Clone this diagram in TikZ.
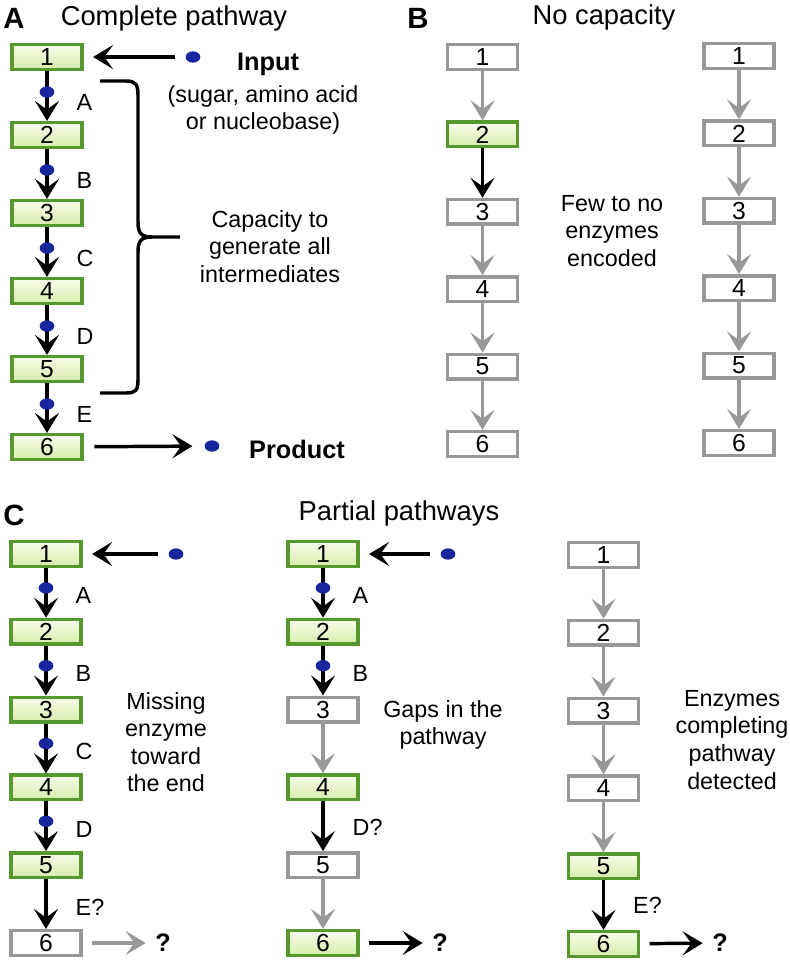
\documentclass[tikz,border=0pt]{standalone}
\usepackage{fontspec}
\setmainfont{Liberation Sans}
\usetikzlibrary{positioning,arrows.meta,shapes.geometric}

\definecolor{leaf}{RGB}{86,152,46}
\definecolor{leaftop}{RGB}{248,252,234}
\definecolor{leafbot}{RGB}{214,236,172}
\definecolor{ash}{RGB}{152,152,152}
\definecolor{ink}{RGB}{24,38,158}

\tikzset{
    box/.style={rectangle, minimum width=52.5pt, minimum height=18.5pt, inner sep=0pt,
        line width=2.6pt, font=\fontsize{18.5}{18.5}\selectfont},
    stepon/.style={box, draw=leaf, top color=leaftop, bottom color=leafbot},
    stepoff/.style={box, draw=ash, fill=white},
    flow/.style={line width=2.6pt, -{Stealth[length=15pt, width=18pt, inset=6.5pt]}},
    noflow/.style={flow, draw=ash, fill=ash},
    metab/.style={ellipse, fill=ink, minimum width=11pt, minimum height=8.5pt, inner sep=0pt},
    tag/.style={inner sep=0pt, align=center, font=\fontsize{17.5}{20.7}\selectfont},
    title/.style={inner sep=0pt, font=\fontsize{20.5}{20.5}\selectfont},
    panel/.style={inner sep=0pt, font=\fontsize{22}{22}\selectfont\bfseries},
    hot/.style={inner sep=0pt, font=\fontsize{19}{19}\selectfont\bfseries}
}

\begin{document}
\begin{tikzpicture}[x=0.75pt, y=-0.75pt]
    \useasboundingbox (0,0) rectangle (789,960);

    \node[panel, anchor=north] (pa) at (14,8) {A};
    \node[title, anchor=north] (ta) at (174,5) {Complete pathway};
    \foreach \i in {1,...,6}
        \node[stepon] (a\i) at (47,{57+78*(\i-1)}) {\i};
    \foreach \i/\j/\e in {1/2/A,2/3/B,3/4/C,4/5/D,5/6/E}
        \draw[flow] (a\i) -- node[metab, pos=0.42] (da\i) {}
            node[tag, right=21pt, pos=0.62] (la\i) {\e} (a\j);
    \node[metab] (ina) at (193,57) {};
    \draw[flow, shorten <=8pt, shorten >=7pt] (ina) -- (a1);
    \node[hot, anchor=north] (input) at (268,53) {Input};
    \node[tag, anchor=north] (kinds) at (263,85) {(sugar, amino acid\\or nucleobase)};
    \node[metab] (outa) at (212,446) {};
    \draw[flow, shorten <=8pt, shorten >=9pt] (a6) -- (outa);
    \node[hot, anchor=north] (product) at (297,440) {Product};
    \coordinate (btop) at (100,81);
    \coordinate (btip) at (180,237);
    \coordinate (bbot) at (100,393);
    \draw[line width=2.6pt] (btop) -- (126,81) .. controls (136,81) and (138,85) .. (138,95)
        -- (138,222) .. controls (138,233) and (141,237) .. (152,237) -- (btip)
        (152,237) .. controls (141,237) and (138,241) .. (138,252)
        -- (138,380) .. controls (138,390) and (136,393) .. (126,393) -- (bbot);
    \node[tag, anchor=north] (cap) at (270,210) {Capacity to\\generate all\\intermediates};

    \node[panel, anchor=north] (pb) at (418,8) {B};
    \node[title, anchor=north] (tb) at (604,4) {No capacity};
    \foreach \i/\s in {1/stepoff,2/stepon,3/stepoff,4/stepoff,5/stepoff,6/stepoff}
        \node[\s] (bl\i) at (482.5,{57+77.4*(\i-1)}) {\i};
    \foreach \i in {1,...,6}
        \node[stepoff] (br\i) at (739,{56+77.4*(\i-1)}) {\i};
    \foreach \i/\j/\s in {1/2/noflow,2/3/flow,3/4/noflow,4/5/noflow,5/6/noflow}
        \draw[\s] (bl\i) -- (bl\j);
    \foreach \i/\j in {1/2,2/3,3/4,4/5,5/6}
        \draw[noflow] (br\i) -- (br\j);
    \node[tag, anchor=north] (few) at (612,195) {Few to no\\enzymes\\encoded};

    \node[panel, anchor=north] (pc) at (14,505) {C};
    \node[title, anchor=north] (tc) at (399,500) {Partial pathways};
    \foreach \i/\s in {1/stepon,2/stepon,3/stepon,4/stepon,5/stepon,6/stepoff}
        \node[\s] (cl\i) at (46,{554+77.8*(\i-1)}) {\i};
    \foreach \i/\s in {1/stepon,2/stepon,3/stepoff,4/stepon,5/stepoff,6/stepon}
        \node[\s] (cm\i) at (323,{554+77.8*(\i-1)}) {\i};
    \foreach \i/\s in {1/stepoff,2/stepoff,3/stepoff,4/stepoff,5/stepon,6/stepon}
        \node[\s] (cr\i) at (603.5,{555+77.8*(\i-1)}) {\i};

    \foreach \i/\j/\e in {1/2/A,2/3/B,3/4/C,4/5/D}
        \draw[flow] (cl\i) -- node[metab, pos=0.4] (dcl\i) {}
            node[tag, right=21pt, pos=0.56] (lcl\i) {\e} (cl\j);
    \draw[flow] (cl5) -- node[tag, right=21pt, pos=0.56] (lcl5) {E?} (cl6);
    \node[metab] (inc) at (176,554) {};
    \draw[flow, shorten <=8pt, shorten >=7pt] (inc) -- (cl1);
    \node[hot] (qcl) at (163,943) {?};
    \draw[noflow, shorten <=7pt, shorten >=7pt] (cl6) -- (qcl);
    \node[tag, anchor=north] (miss) at (166,692) {Missing\\enzyme\\toward\\the end};

    \foreach \i/\j/\e in {1/2/A,2/3/B}
        \draw[flow] (cm\i) -- node[metab, pos=0.4] (dcm\i) {}
            node[tag, right=21pt, pos=0.56] (lcm\i) {\e} (cm\j);
    \draw[noflow] (cm3) -- (cm4);
    \draw[flow] (cm4) -- node[tag, right=21pt, pos=0.52] (lcm4) {D?} (cm5);
    \draw[noflow] (cm5) -- (cm6);
    \node[metab] (inm) at (448,554) {};
    \draw[flow, shorten <=8pt, shorten >=7pt] (inm) -- (cm1);
    \node[hot] (qcm) at (440,943) {?};
    \draw[flow, shorten <=7pt, shorten >=7pt] (cm6) -- (qcm);
    \node[tag, anchor=north] (gaps) at (443,700) {Gaps in the\\pathway};

    \foreach \i/\j in {1/2,2/3,3/4,4/5}
        \draw[noflow] (cr\i) -- (cr\j);
    \draw[flow] (cr5) -- node[tag, right=21pt, pos=0.5] (lcr5) {E?} (cr6);
    \node[hot] (qcr) at (720,943) {?};
    \draw[flow, shorten <=7pt, shorten >=7pt] (cr6) -- (qcr);
    \node[tag, anchor=north] (done) at (732,690) {Enzymes\\completing\\pathway\\detected};
\end{tikzpicture}
\end{document}
